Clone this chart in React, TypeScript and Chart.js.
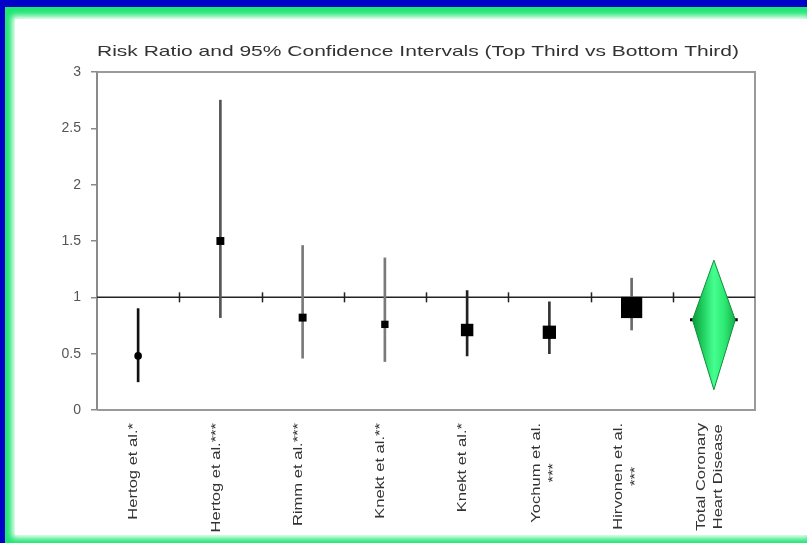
import React, { useEffect, useRef } from "react";
import { Chart, registerables } from "chart.js";

Chart.register(...registerables);

// ---- data ----
const chartTitle = "Risk Ratio and 95% Confidence Intervals (Top Third vs Bottom Third)";
const studyLabels: string[][] = [
  ["Hertog et al.*"],
  ["Hertog et al.***"],
  ["Rimm et al.***"],
  ["Knekt et al.**"],
  ["Knekt et al.*"],
  ["Yochum et al.", "***"],
  ["Hirvonen et al.", "***"],
  ["Total Coronary", "Heart Disease"],
];
const riskRatio = [0.48, 1.5, 0.82, 0.76, 0.71, 0.69, 0.91];
const ciLow = [0.25, 0.82, 0.46, 0.43, 0.48, 0.5, 0.71];
const ciHigh = [0.9, 2.75, 1.46, 1.35, 1.06, 0.96, 1.17];
const totalEstimate = 0.8;
const totalLow = 0.18;
const totalHigh = 1.33;
const yMin = 0;
const yMax = 3;
const yStep = 0.5;
const referenceValue = 1;

// ---- styles ----
const markerStyles = ["circle", "rect", "rect", "rect", "rect", "rect", "rect"];
const markerRadius = [3.8, 5.6, 5.6, 5.2, 8.8, 9.4, 15];
const ciColors = ["#111111", "#555555", "#7a7a7a", "#7a7a7a", "#222222", "#333333", "#6a6a6a"];
const diamondHalfWidth = 0.26;
const FONT = "'Liberation Sans', Arial, Helvetica, sans-serif";

const decorPlugin = {
  id: "decor",
  beforeDatasetsDraw(chart: any) {
    const { ctx, chartArea: a, scales } = chart;
    const ys = scales.y;
    const xs = scales.x;
    ctx.save();
    // frame (top, right, bottom)
    ctx.strokeStyle = "#9a9a9a";
    ctx.lineWidth = 2;
    ctx.beginPath();
    ctx.moveTo(a.left, a.top);
    ctx.lineTo(a.right, a.top);
    ctx.lineTo(a.right, a.bottom);
    ctx.lineTo(a.left, a.bottom);
    ctx.stroke();
    // reference line at 1
    const y1 = ys.getPixelForValue(referenceValue);
    ctx.strokeStyle = "#222222";
    ctx.lineWidth = 1.5;
    ctx.beginPath();
    ctx.moveTo(a.left, y1);
    ctx.lineTo(a.right, y1);
    ctx.stroke();
    // boundary ticks on reference line
    ctx.lineWidth = 1.5;
    for (let i = 0; i < studyLabels.length - 1; i++) {
      const x = Math.round(xs.getPixelForValue(i + 0.5)) + 0.5;
      ctx.beginPath();
      ctx.moveTo(x, y1 - 5);
      ctx.lineTo(x, y1 + 5);
      ctx.stroke();
    }
    ctx.restore();
  },
  afterDraw(chart: any) {
    const { ctx, chartArea: a, scales } = chart;
    const xs = scales.x;
    ctx.save();
    ctx.fillStyle = "#333333";
    // title
    ctx.font = `15px ${FONT}`;
    ctx.textAlign = "center";
    ctx.textBaseline = "middle";
    ctx.save();
    ctx.translate((a.left + a.right) / 2 - 8, 52);
    ctx.scale(1.4, 1);
    ctx.fillText(chartTitle, 0, 0);
    ctx.restore();
    // category labels, rotated
    const sx = 1.38;
    ctx.font = `12px ${FONT}`;
    const lineGap = 17;
    studyLabels.forEach((lines, i) => {
      const widths = lines.map((l) => ctx.measureText(l).width * sx);
      const maxW = Math.max(...widths);
      const yc = a.bottom + 13 + maxW / 2;
      const xc = xs.getPixelForValue(i) - 4;
      lines.forEach((l, j) => {
        const off = (j - (lines.length - 1) / 2) * lineGap;
        ctx.save();
        ctx.translate(xc + off, yc);
        ctx.rotate(-Math.PI / 2);
        ctx.scale(sx, 1);
        ctx.fillText(l, 0, 0);
        ctx.restore();
      });
    });
    ctx.restore();
  },
};

export default function App() {
  const ref = useRef<HTMLCanvasElement | null>(null);

  useEffect(() => {
    if (!ref.current) return;
    const tIdx = studyLabels.length - 1;
    const ciData = riskRatio.map((_, i) => ({ x: i, y: [ciLow[i], ciHigh[i]] }));
    const pointData = riskRatio.map((v, i) => ({ x: i, y: v }));
    const diamondData = [
      { x: tIdx - diamondHalfWidth, y: totalEstimate },
      { x: tIdx, y: totalHigh },
      { x: tIdx + diamondHalfWidth, y: totalEstimate },
      { x: tIdx, y: totalLow },
      { x: tIdx - diamondHalfWidth, y: totalEstimate },
    ];
    const nubData = [
      { x: tIdx - diamondHalfWidth - 0.03, y: totalEstimate },
      { x: tIdx + diamondHalfWidth + 0.03, y: totalEstimate },
    ];

    const chart = new Chart(ref.current, {
      type: "bar",
      data: {
        datasets: [
          {
            type: "line",
            data: pointData,
            showLine: false,
            pointStyle: markerStyles as any,
            pointRadius: markerRadius,
            pointBackgroundColor: "#000000",
            pointBorderColor: "#000000",
            pointBorderWidth: 0,
            order: 1,
          } as any,
          {
            type: "line",
            data: diamondData,
            borderColor: "#0d8f3a",
            borderWidth: 1,
            pointRadius: 0,
            tension: 0,
            fill: "shape",
            backgroundColor: (c: any) => {
              const ch = c.chart;
              const xs = ch.scales && ch.scales.x;
              if (!ch.chartArea || !xs) return "#2ee070";
              const l = xs.getPixelForValue(tIdx - diamondHalfWidth);
              const r = xs.getPixelForValue(tIdx + diamondHalfWidth);
              const g = ch.ctx.createLinearGradient(l, 0, r, 0);
              g.addColorStop(0, "#0c9a3a");
              g.addColorStop(0.25, "#22d060");
              g.addColorStop(0.5, "#45ff90");
              g.addColorStop(0.75, "#2ee873");
              g.addColorStop(1, "#16b04a");
              return g;
            },
            order: 2,
          } as any,
          {
            type: "bar",
            data: ciData as any,
            backgroundColor: ciColors,
            borderWidth: 0,
            barThickness: 2,
            order: 3,
          } as any,
          {
            type: "line",
            data: nubData,
            borderColor: "#000000",
            borderWidth: 3,
            pointRadius: 0,
            order: 4,
          } as any,
        ],
      },
      options: {
        responsive: false,
        animation: false,
        events: [],
        layout: { padding: { left: 0, top: 72, right: 52, bottom: 133 } },
        plugins: {
          legend: { display: false },
          title: { display: false },
          tooltip: { enabled: false },
        },
        scales: {
          x: {
            type: "linear",
            min: -0.5,
            max: studyLabels.length - 0.5,
            offset: false,
            display: false,
          },
          y: {
            type: "linear",
            min: yMin,
            max: yMax,
            ticks: {
              stepSize: yStep,
              color: "#555555",
              font: { family: FONT, size: 14 },
              padding: 10,
              callback: (v: any) => String(Number(v)),
            },
            grid: {
              drawOnChartArea: false,
              drawTicks: true,
              tickLength: 6,
              color: "#8a8a8a",
              lineWidth: 1.5,
            },
            border: { display: true, color: "#8a8a8a", width: 2 },
            afterFit: (s: any) => {
              s.width = 97;
            },
          },
        },
      } as any,
      plugins: [decorPlugin],
    });
    return () => chart.destroy();
  }, []);

  return (
    <div style={{ position: "fixed", left: 0, top: 0, width: 807, height: 543, background: "#0000c8", overflow: "hidden" }}>
      <div style={{ position: "absolute", left: 5, top: 7, right: 0, bottom: 0, background: "#1ee672" }} />
      <div
        style={{
          position: "absolute",
          left: 15,
          top: 19,
          right: 0,
          bottom: 8,
          background: "#ffffff",
          boxShadow: "0 0 6px 3px #ffffff",
        }}
      />
      <canvas
        ref={ref}
        width={807}
        height={543}
        style={{ position: "absolute", left: 0, top: 0, width: 807, height: 543, display: "block" }}
      />
    </div>
  );
}
